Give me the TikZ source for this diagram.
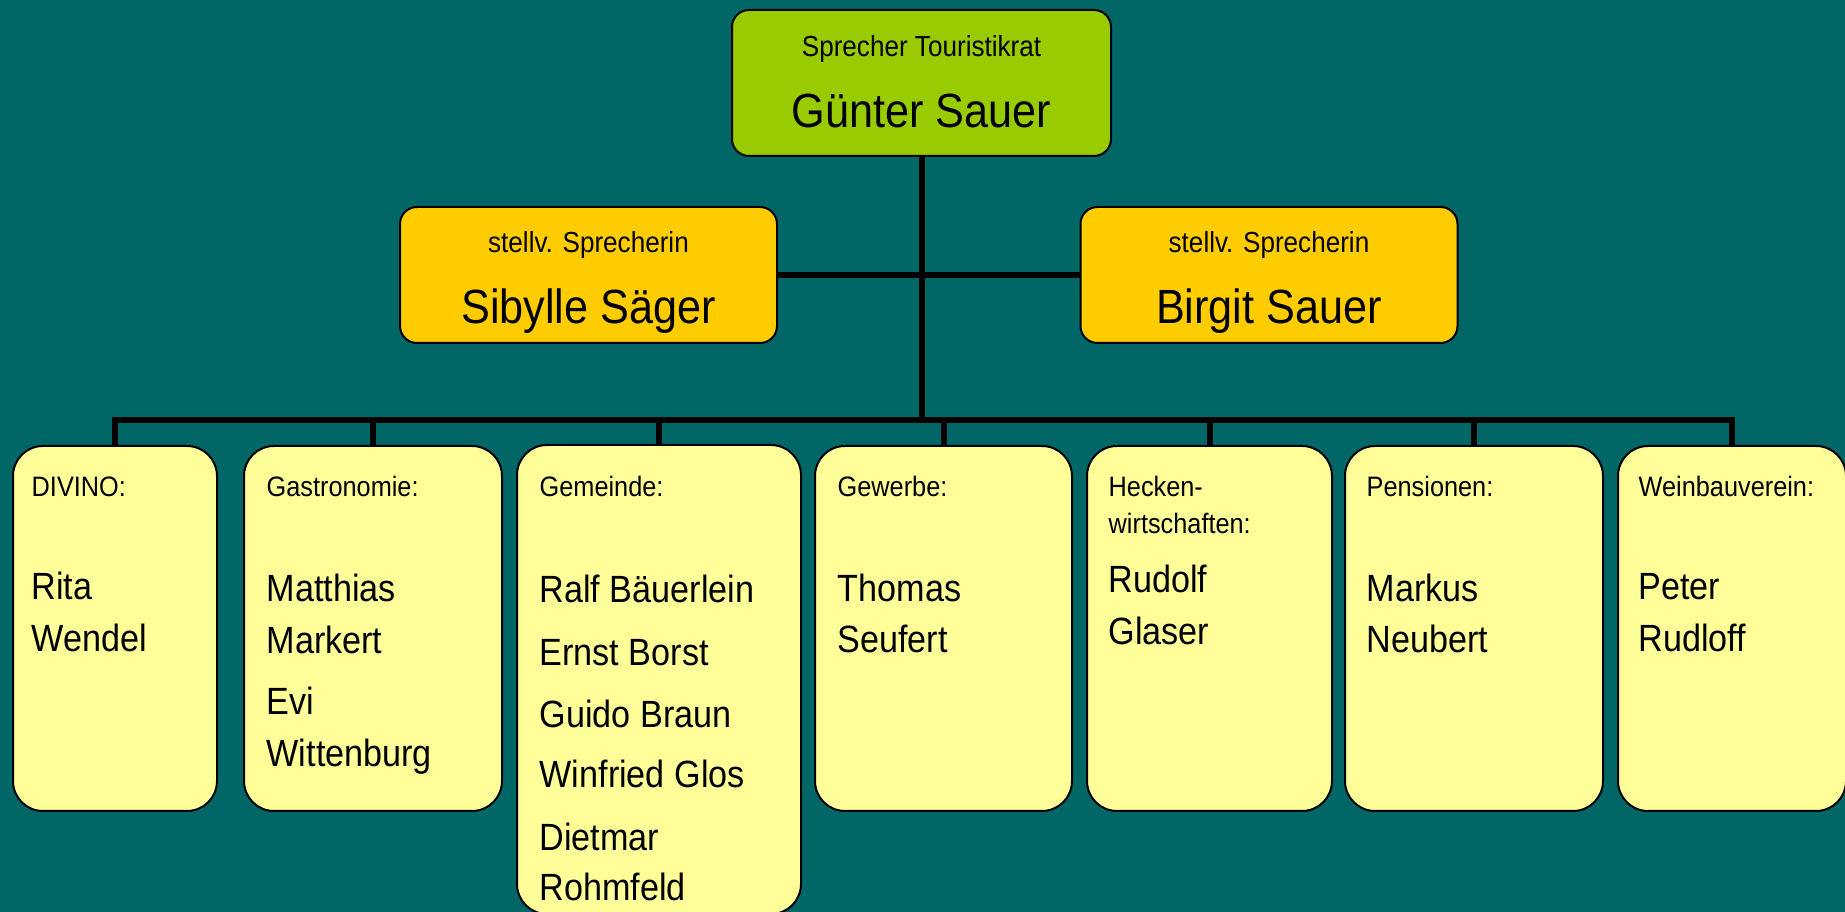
\documentclass[tikz,border=0pt]{standalone}
\usepackage{fontspec}
\setmainfont[FakeStretch=0.9]{Liberation Sans}
\usepackage{tikz}
\usetikzlibrary{shapes,positioning}
\definecolor{bgteal}{RGB}{0,102,102}
\definecolor{topgreen}{RGB}{153,204,0}
\definecolor{deputyorange}{RGB}{255,204,0}
\definecolor{groupyellow}{RGB}{255,255,153}
\tikzstyle{topbox} = [rectangle, rounded corners=1.7mm, draw=black, line width=0.2mm, fill=topgreen, minimum width=37.9mm, minimum height=14.6mm, inner sep=0pt]
\tikzstyle{deputybox} = [rectangle, rounded corners=1.7mm, draw=black, line width=0.2mm, fill=deputyorange, minimum width=37.7mm, minimum height=13.6mm, inner sep=0pt]
\tikzstyle{groupbox} = [rectangle, rounded corners=3mm, draw=black, line width=0.2mm, fill=groupyellow, minimum height=36.5mm, inner sep=0pt]
\tikzstyle{orgline} = [line width=0.6mm, draw=black]
\tikzstyle{role} = [anchor=base, inner sep=0pt, font=\fontsize{8.25}{10}\selectfont]
\tikzstyle{bigname} = [anchor=base, inner sep=0pt, font=\fontsize{13.66}{16}\selectfont]
\tikzstyle{grouptitle} = [anchor=base west, inner sep=0pt, font=\fontsize{8}{10}\selectfont]
\tikzstyle{member} = [anchor=base west, inner sep=0pt, font=\fontsize{10.8}{13}\selectfont]

\begin{document}
\begin{tikzpicture}[x=0.1mm, y=-0.1mm]
    \useasboundingbox (0,0) rectangle (1845,912);
    \fill [bgteal] (0,0) rectangle (1845,912);
    % Sprecher und Stellvertreterinnen
    \node [topbox] (top) at (921.5,83) {};
    \node [deputybox] (sibylle) at (588.5,275) {};
    \node [deputybox] (birgit) at (1269,275) {};
    \node [role] (topRole) at (921.5,57) {Sprecher Touristikrat};
    \node [bigname] (topName) at (921.5,128) {Günter Sauer};
    \node [role] (sibylleRole) at (588.5,253) {stellv. Sprecherin};
    \node [bigname] (sibylleName) at (588.5,324) {Sibylle Säger};
    \node [role] (birgitRole) at (1269,253) {stellv. Sprecherin};
    \node [bigname] (birgitName) at (1269,324) {Birgit Sauer};
    % Gruppen
    \node [groupbox, minimum width=20.4mm] (divino) at (115,628.5) {};
    \node [groupbox, minimum width=25.8mm] (gastro) at (373,628.5) {};
    \node [groupbox, minimum width=28.4mm, minimum height=46.9mm] (gemeinde) at (659,679.5) {};
    \node [groupbox, minimum width=25.7mm] (gewerbe) at (943.5,628.5) {};
    \node [groupbox, minimum width=24.5mm] (hecken) at (1209.5,628.5) {};
    \node [groupbox, minimum width=25.8mm] (pension) at (1474,628.5) {};
    \node [groupbox, minimum width=22.8mm] (wein) at (1732,628.5) {};
    % Linien
    \coordinate (bus) at (921.5,420);
    \draw [orgline] (top.south) -- (bus);
    \draw [orgline] (sibylle.east) -- (birgit.west);
    \draw [orgline] (divino.north) |- (bus) -| (wein.north);
    \draw [orgline] (gastro.north) -- (gastro.north |- bus);
    \draw [orgline] (gemeinde.north) -- (gemeinde.north |- bus);
    \draw [orgline] (gewerbe.north) -- (gewerbe.north |- bus);
    \draw [orgline] (hecken.north) -- (hecken.north |- bus);
    \draw [orgline] (pension.north) -- (pension.north |- bus);
    % Texte
    \node [grouptitle] (divinoTitle) at (31,497) {DIVINO:};
    \node [member] (rita) at (31,600) {Rita};
    \node [member] (wendel) at (31,652) {Wendel};
    \node [grouptitle] (gastroTitle) at (266,497) {Gastronomie:};
    \node [member] (matthias) at (266,602) {Matthias};
    \node [member] (markert) at (266,654) {Markert};
    \node [member] (evi) at (266,715) {Evi};
    \node [member] (wittenburg) at (266,767) {Wittenburg};
    \node [grouptitle] (gemeindeTitle) at (539,497) {Gemeinde:};
    \node [member] (ralf) at (539,603) {Ralf Bäuerlein};
    \node [member] (ernst) at (539,666) {Ernst Borst};
    \node [member] (guido) at (539,727) {Guido Braun};
    \node [member] (winfried) at (539,788) {Winfried Glos};
    \node [member] (dietmar) at (539,850) {Dietmar};
    \node [member] (rohmfeld) at (539,900) {Rohmfeld};
    \node [grouptitle] (gewerbeTitle) at (837,497) {Gewerbe:};
    \node [member] (thomas) at (837,602) {Thomas};
    \node [member] (seufert) at (837,653) {Seufert};
    \node [grouptitle] (heckenTitle) at (1108,497) {Hecken-};
    \node [grouptitle] (heckenTitleB) at (1108,534) {wirtschaften:};
    \node [member] (rudolf) at (1108,593) {Rudolf};
    \node [member] (glaser) at (1108,645) {Glaser};
    \node [grouptitle] (pensionTitle) at (1366,497) {Pensionen:};
    \node [member] (markus) at (1366,602) {Markus};
    \node [member] (neubert) at (1366,653) {Neubert};
    \node [grouptitle] (weinTitle) at (1638,497) {Weinbauverein:};
    \node [member] (peter) at (1638,600) {Peter};
    \node [member] (rudloff) at (1638,652) {Rudloff};
\end{tikzpicture}
\end{document}
